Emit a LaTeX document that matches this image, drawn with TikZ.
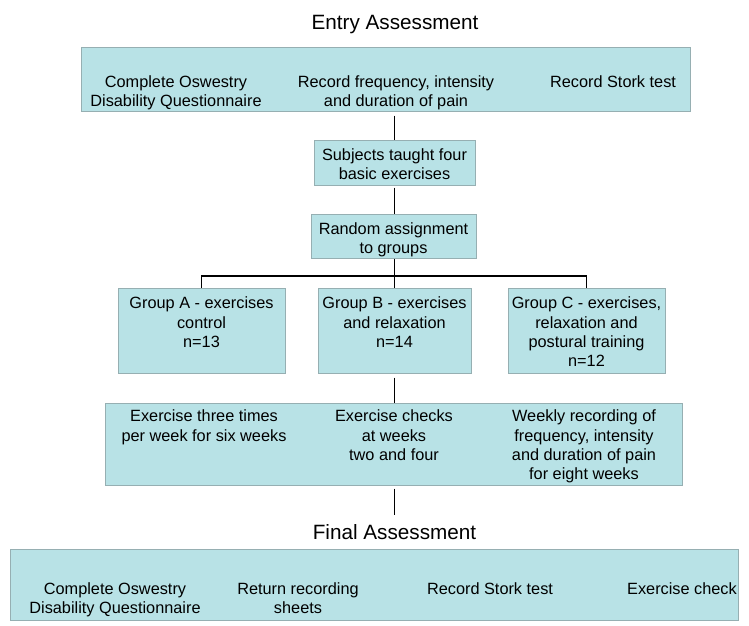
\documentclass[tikz,border=0pt]{standalone}
\usepackage{fontspec}
\setmainfont{Liberation Sans}
\definecolor{boxfill}{RGB}{184,226,230}
\definecolor{boxline}{RGB}{150,175,178}
\begin{document}
\begin{tikzpicture}[x=1pt,y=-1pt,
  box/.style={draw=boxline, fill=boxfill, line width=1pt, inner sep=0pt},
  txt/.style={font=\fontsize{16.3}{18.3}\selectfont, align=center, inner sep=0pt, anchor=north},
  txtw/.style={txt, font=\fontsize{16.3}{19.4}\selectfont},
  ttl/.style={font=\fontsize{20.7}{24}\selectfont, inner sep=0pt},
  conn/.style={line width=1.8pt, black}]
\useasboundingbox (0,0) rectangle (749,625);

% titles
\node[ttl] (etitle) at (395,25) {Entry Assessment};
\node[ttl] (ftitle) at (394.5,532) {Final Assessment};

% boxes
\node[box, minimum width=609pt, minimum height=64pt] (entry) at (385.5,79) {};
\node[box, minimum width=161pt, minimum height=45pt] (subj) at (394.5,162.5) {};
\node[box, minimum width=165pt, minimum height=44pt] (rand) at (393.5,236) {};
\node[box, minimum width=167pt, minimum height=85pt] (ga) at (201.5,330.5) {};
\node[box, minimum width=153pt, minimum height=85pt] (gb) at (394.5,330.5) {};
\node[box, minimum width=157pt, minimum height=85pt] (gc) at (586.5,330.5) {};
\node[box, minimum width=577pt, minimum height=82pt] (exer) at (393.5,444) {};
\node[box, minimum width=728pt, minimum height=71pt] (final) at (374,584.5) {};

% entry texts
\node[txt] (e1) at (176,75.7) {Complete Oswestry\\Disability Questionnaire};
\node[txt] (e2) at (396,75.7) {Record frequency, intensity\\and duration of pain};
\node[txt] (e3) at (613,75.7) {Record Stork test};

\node[txt] (s1) at (394.5,148.7) {Subjects taught four\\basic exercises};
\node[txtw] (r1) at (393.5,222.5) {Random assignment\\to groups};

\node[txtw] (a1) at (201.5,296.7) {Group A - exercises\\control\\n=13};
\node[txtw] (b1) at (394.5,296.7) {Group B - exercises\\and relaxation\\n=14};
\node[txtw] (c1) at (586.5,296.7) {Group C - exercises,\\relaxation and\\postural training\\n=12};

\node[txtw] (x1) at (204,409.7) {Exercise three times\\per week for six weeks};
\node[txtw] (x2) at (394,409.7) {Exercise checks\\at weeks\\two and four};
\node[txtw] (x3) at (584,409.7) {Weekly recording of\\frequency, intensity\\and duration of pain\\for eight weeks};

\node[txt] (f1) at (115,582.7) {Complete Oswestry\\Disability Questionnaire};
\node[txt] (f2) at (298,582.7) {Return recording\\sheets};
\node[txt] (f3) at (490,582.7) {Record Stork test};
\node[txt] (f4) at (682,582.7) {Exercise check};

% connectors
\coordinate (bar) at (394.5,276);
\draw[conn, shorten <=4pt] (entry.south -| subj.north) -- (subj.north);
\draw[conn, shorten <=2pt] (subj.south) -- (subj.south |- rand.north);
\draw[conn] (rand.south -| bar) -- (bar);
\draw[conn] (ga.north) |- (bar) -| (gc.north);
\draw[conn] (bar) -- (gb.north);
\draw[conn, shorten <=4pt] (gb.south) -- (gb.south |- exer.north);
\draw[conn, shorten <=3pt, shorten >=9pt] (exer.south -| ftitle.north) -- (ftitle.north);
\end{tikzpicture}
\end{document}
